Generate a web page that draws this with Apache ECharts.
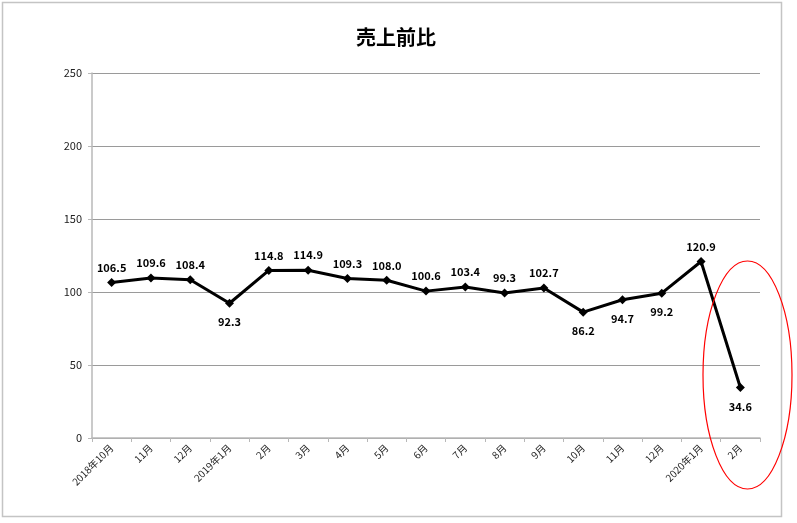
<!DOCTYPE html>
<html><head><meta charset="utf-8">
<script src="https://cdn.jsdelivr.net/npm/echarts@6/dist/echarts.min.js"></script>
<style>html,body{margin:0;padding:0;background:#fff}#c{width:797px;height:523px}</style>
</head><body><div id="c"></div>
<script>
const title = '売上前比';
const categories = ['2018年10月','11月','12月','2019年1月','2月','3月','4月','5月','6月','7月','8月','9月','10月','11月','12月','2020年1月','2月'];
const values = [106.5,109.6,108.4,92.3,114.8,114.9,109.3,108.0,100.6,103.4,99.3,102.7,86.2,94.7,99.2,120.9,34.6];
const yTicks = [0,50,100,150,200,250];

const belowIdx = [3,12,13,14,16];
const font = '"Noto Sans CJK JP", "Noto Sans", sans-serif';
const chart = echarts.init(document.getElementById('c'));
chart.setOption({
  animation:false,
  title:{text:title,left:391,top:22,textAlign:'center',textStyle:{fontFamily:font,fontSize:20,fontWeight:'bold',color:'#000'}},
  grid:{left:92,right:37,top:73,bottom:85},
  xAxis:{type:'category',data:categories,boundaryGap:true,
    axisLine:{lineStyle:{color:'#b8b8b8',width:1.5}},
    axisTick:{show:true,length:4,lineStyle:{color:'#b8b8b8'}},
    axisLabel:{rotate:45,fontFamily:font,fontSize:10,color:'#222',margin:8,interval:0}},
  yAxis:{type:'value',min:yTicks[0],max:yTicks[yTicks.length-1],interval:50,
    axisLine:{show:true,lineStyle:{color:'#b8b8b8',width:1.5}},
    axisTick:{show:true,length:4,lineStyle:{color:'#b8b8b8'}},
    axisLabel:{fontFamily:font,fontSize:11,color:'#222',margin:10},
    splitLine:{lineStyle:{color:'#9a9a9a',width:1}}},
  series:[{type:'line',data:values.map((v,i)=>({value:v,label:{position:belowIdx.includes(i)?'bottom':'top',distance:belowIdx.includes(i)?9:5}})),
    symbol:'diamond',symbolSize:9,
    lineStyle:{color:'#000',width:3},itemStyle:{color:'#000'},
    label:{show:true,formatter:p=>p.value.toFixed(1),fontFamily:font,fontSize:11,fontWeight:'bold',color:'#000'}}],
  graphic:[
    {type:'rect',shape:{x:2.5,y:2.5,width:779,height:514},style:{fill:'none',stroke:'#c4c4c4',lineWidth:1.5},silent:true},
    {type:'ellipse',shape:{cx:747.5,cy:375,rx:44.5,ry:114},style:{fill:'none',stroke:'#ff0000',lineWidth:1.2},silent:true,z:10}
  ]
});
</script></body></html>
